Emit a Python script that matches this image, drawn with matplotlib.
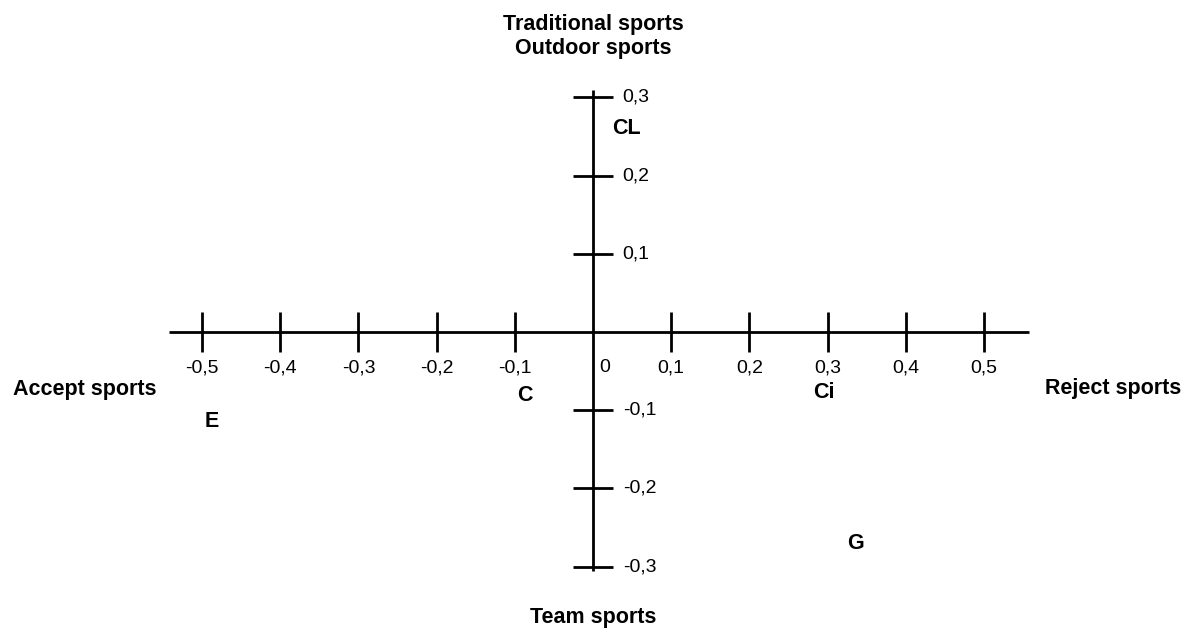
import matplotlib
matplotlib.use("Agg")
import matplotlib.pyplot as plt
import numpy as np

plt.rcParams['font.family'] = ['Liberation Sans', 'DejaVu Sans']

# axis ticks
x_ticks = [-0.5, -0.4, -0.3, -0.2, -0.1, 0.0, 0.1, 0.2, 0.3, 0.4, 0.5]
x_tick_labels = ['-0,5', '-0,4', '-0,3', '-0,2', '-0,1', '0', '0,1', '0,2', '0,3', '0,4', '0,5']
y_ticks = [0.3, 0.2, 0.1, -0.1, -0.2, -0.3]
y_tick_labels = ['0,3', '0,2', '0,1', '-0,1', '-0,2', '-0,3']

# group positions on the map
groups = ['CL', 'C', 'Ci', 'E', 'G']
group_x = [0.043, -0.087, 0.295, -0.488, 0.336]
group_y = [0.260, -0.081, -0.077, -0.115, -0.270]

# pole labels
pole_top = 'Traditional sports\nOutdoor sports'
pole_bottom = 'Team sports'
pole_left = 'Accept sports'
pole_right = 'Reject sports'

fig = plt.figure(figsize=(11.86, 6.28), dpi=100)
ax = fig.add_axes([0, 0, 1, 1])
ax.set_xlim(-0.7583, 0.7583)
ax.set_ylim(-0.3785, 0.4246)
ax.axis('off')

lw = 2.0
tick = 0.026
fs_tick = 14
fs_bold = 15.5
# main axes lines
ax.plot([-0.542, 0.557], [0, 0], color='black', lw=lw, solid_capstyle='butt')
ax.plot([0, 0], [-0.306, 0.310], color='black', lw=lw, solid_capstyle='butt')

for x, lab in zip(x_ticks, x_tick_labels):
    if x != 0:
        ax.plot([x, x], [-tick, tick], color='black', lw=lw, solid_capstyle='butt')
        ax.text(x, -0.046, lab, ha='center', va='center', fontsize=fs_tick)
    else:
        ax.text(x + 0.015, -0.046, lab, ha='center', va='center', fontsize=fs_tick)

for y, lab in zip(y_ticks, y_tick_labels):
    ax.plot([-tick, tick], [y, y], color='black', lw=lw, solid_capstyle='butt')
    ax.text(0.038, y, lab, ha='left', va='center', fontsize=fs_tick)

for g, x, y in zip(groups, group_x, group_y):
    ax.text(x, y, g, ha='center', va='center', fontsize=fs_bold, fontweight='bold')

ax.text(0, 0.378, pole_top, ha='center', va='center', fontsize=fs_bold,
        fontweight='bold', linespacing=1.18)
ax.text(0, -0.365, pole_bottom, ha='center', va='center', fontsize=fs_bold, fontweight='bold')
ax.text(-0.650, -0.073, pole_left, ha='center', va='center', fontsize=fs_bold, fontweight='bold')
ax.text(0.665, -0.072, pole_right, ha='center', va='center', fontsize=fs_bold, fontweight='bold')

fig.savefig('out.png', dpi=100)
